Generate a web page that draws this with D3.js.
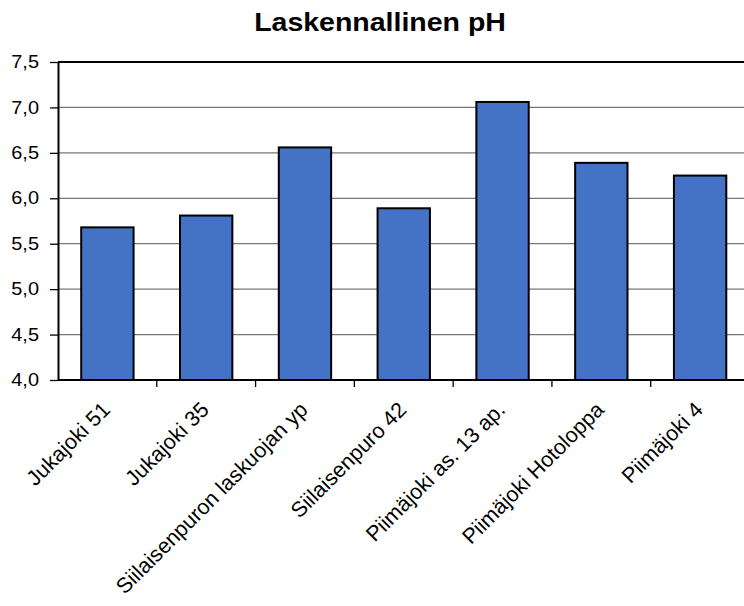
<!DOCTYPE html>
<html>
<head>
<meta charset="utf-8">
<script src="https://cdn.jsdelivr.net/npm/d3@7"></script>
<style>
  html, body { margin: 0; padding: 0; background: #fff; }
  svg { display: block; font-family: "Liberation Sans", Arial, sans-serif; }
</style>
</head>
<body>
<svg id="chart" width="744" height="606"></svg>
<script>
// Calculated pH per sampling site
const categories = [
  "Jukajoki 51",
  "Jukajoki 35",
  "Siilaisenpuron laskuojan yp",
  "Siilaisenpuro 42",
  "Piimäjoki as. 13 ap.",
  "Piimäjoki Hotoloppa",
  "Piimäjoki 4"
];
const values = [5.68, 5.81, 6.56, 5.89, 7.06, 6.39, 6.25];
const yTicks = [4.0, 4.5, 5.0, 5.5, 6.0, 6.5, 7.0, 7.5];
const title = "Laskennallinen pH";

const svg = d3.select("#chart");
const margin = { left: 58, top: 62, bottom: 380 };
const plotRight = 749.5;
const sx = 1.14; // slightly wide lettering for title and value labels

const x = d3.scaleBand()
  .domain(categories)
  .range([margin.left, plotRight])
  .paddingInner(0.47)
  .paddingOuter(0.235);

const y = d3.scaleLinear()
  .domain([4.0, 7.5])
  .range([margin.bottom, margin.top]);

const fmt = d => d3.format(".1f")(d).replace(".", ",");

// title
svg.append("text")
  .attr("transform", `translate(380,31) scale(${sx},1)`)
  .attr("text-anchor", "middle")
  .attr("font-size", 25)
  .attr("font-weight", "bold")
  .attr("fill", "#000")
  .text(title);

// horizontal gridlines
svg.append("g")
  .selectAll("line")
  .data(yTicks.filter(t => t > 4.0 && t < 7.5))
  .join("line")
  .attr("x1", margin.left)
  .attr("x2", plotRight)
  .attr("y1", d => y(d))
  .attr("y2", d => y(d))
  .attr("stroke", "#777")
  .attr("stroke-width", 1.3);

// top border of plot area
svg.append("line")
  .attr("x1", margin.left).attr("x2", plotRight)
  .attr("y1", y(7.5)).attr("y2", y(7.5))
  .attr("stroke", "#000").attr("stroke-width", 2);

// bars
svg.append("g")
  .selectAll("rect")
  .data(values)
  .join("rect")
  .attr("x", (d, i) => x(categories[i]))
  .attr("y", d => y(d))
  .attr("width", x.bandwidth())
  .attr("height", d => y(4.0) - y(d))
  .attr("fill", "#4472c4")
  .attr("stroke", "#000")
  .attr("stroke-width", 2);

// y axis
const yAxis = d3.axisLeft(y)
  .tickValues(yTicks)
  .tickFormat(fmt)
  .tickSize(8)
  .tickSizeOuter(0);

const gy = svg.append("g")
  .attr("transform", `translate(${margin.left},0)`)
  .call(yAxis);
gy.select(".domain").attr("stroke", "#000").attr("stroke-width", 2);
gy.selectAll(".tick line").attr("stroke", "#000").attr("stroke-width", 1.3);
gy.selectAll(".tick text")
  .attr("x", null)
  .attr("dy", "0.32em")
  .attr("transform", `translate(-19,0) scale(${sx},1)`)
  .attr("font-size", 17.5)
  .attr("font-family", "Liberation Sans, Arial, sans-serif")
  .attr("fill", "#000");

// x axis: baseline with tick marks at category boundaries
const step = x.step();
const boundaries = d3.range(1, categories.length).map(i => margin.left + i * step);

svg.append("line")
  .attr("x1", margin.left).attr("x2", plotRight)
  .attr("y1", margin.bottom).attr("y2", margin.bottom)
  .attr("stroke", "#000").attr("stroke-width", 2);

svg.append("g")
  .selectAll("line")
  .data(boundaries)
  .join("line")
  .attr("x1", d => d).attr("x2", d => d)
  .attr("y1", margin.bottom).attr("y2", margin.bottom + 7)
  .attr("stroke", "#000").attr("stroke-width", 1.3);

// rotated category labels
svg.append("g")
  .selectAll("text")
  .data(categories)
  .join("text")
  .attr("transform", d => `translate(${x(d) + x.bandwidth() / 2 + 4},${margin.bottom + 31}) rotate(-45)`)
  .attr("text-anchor", "end")
  .attr("font-size", 21.5)
  .attr("fill", "#000")
  .text(d => d);
</script>
</body>
</html>
